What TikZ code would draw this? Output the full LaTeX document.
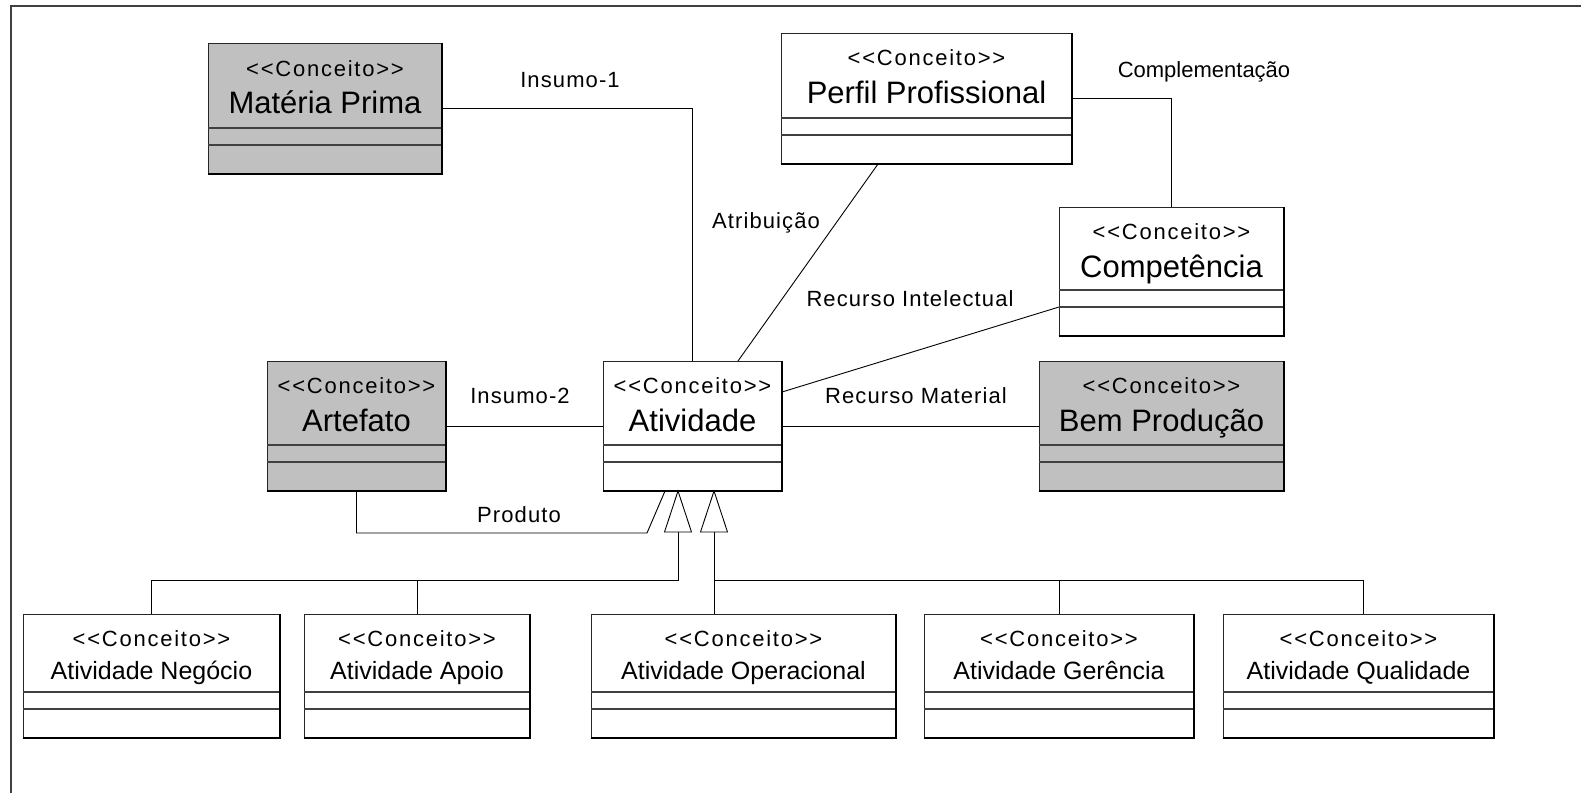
\documentclass[tikz,border=0pt]{standalone}
\usepackage{fontspec}
\newfontfamily\ff{Liberation Sans}
\newfontfamily\ffs{Liberation Sans}[LetterSpace=8]
\newfontfamily\ffl{Liberation Sans}[LetterSpace=5]
\definecolor{boxgray}{HTML}{C0C0C0}
\tikzset{
 cls/.style={draw=black!85, line width=1pt, inner sep=0pt, outer sep=0pt, rectangle},
 divl/.style={draw=black!75, line width=1.2pt},
 shadowb/.style={draw=black, line width=2.4pt},
 shadowr/.style={draw=black, line width=1.8pt},
 conn/.style={draw=black, line width=0.9pt},
 gentri/.style={draw=black, line width=0.9pt, fill=white},
 frameline/.style={draw=black!75, line width=1.6pt},
 stereo/.style={font=\ffs\fontsize{22}{26}\selectfont, anchor=base, inner sep=0pt},
 bigname/.style={font=\ff\fontsize{31}{37}\selectfont, anchor=base, inner sep=0pt},
 smallname/.style={font=\ff\fontsize{25}{30}\selectfont, anchor=base, inner sep=0pt},
 lbl/.style={font=\ffl\fontsize{22}{26}\selectfont, anchor=base, inner sep=0pt},
 lblplain/.style={font=\ff\fontsize{22}{26}\selectfont, anchor=base, inner sep=0pt},
}
\newcommand{\cbox}[6]{%
 \node[cls, fill=#6, minimum width={(#4)-(#2)}, minimum height={(#5)-(#3)}] (#1) at ({((#2)+(#4))/2},{((#3)+(#5))/2}) {};
 \draw[divl] ([yshift=46pt]#1.south west) -- ([yshift=46pt]#1.south east);
 \draw[divl] ([yshift=29pt]#1.south west) -- ([yshift=29pt]#1.south east);
 \draw[shadowb] ([xshift=-0.5pt]#1.south west) -- ([xshift=0.9pt]#1.south east);
 \draw[shadowr] (#1.south east) -- (#1.north east);
}
\begin{document}
\begin{tikzpicture}[x=1pt,y=-1pt]
\useasboundingbox (0,0) rectangle (1581,793);
\fill[white] (0,0) rectangle (1581,793);
\draw[frameline] (11,793) -- (11,6) -- (1581,6);

% top boxes
\cbox{mp}{208}{43}{442}{174}{boxgray}
\node[stereo] (mps) at (325,76) {<<Conceito>>};
\node[bigname] (mpn) at (325,113) {Matéria Prima};

\cbox{perfil}{781}{33}{1072}{164}{white}
\node[stereo] (perfils) at (926.5,65) {<<Conceito>>};
\node[bigname] (perfiln) at (926.5,103) {Perfil Profissional};

\cbox{comp}{1059}{207}{1284}{336}{white}
\node[stereo] (comps) at (1171.5,239) {<<Conceito>>};
\node[bigname] (compn) at (1171.5,277) {Competência};

\cbox{art}{267}{361}{446}{491}{boxgray}
\node[stereo] (arts) at (356.5,393) {<<Conceito>>};
\node[bigname] (artn) at (356.5,431) {Artefato};

\cbox{ativ}{603}{361}{782}{491}{white}
\node[stereo] (ativs) at (692.5,393) {<<Conceito>>};
\node[bigname] (ativn) at (692.5,431) {Atividade};

\cbox{bem}{1039}{361}{1284}{491}{boxgray}
\node[stereo] (bems) at (1161.5,393) {<<Conceito>>};
\node[bigname] (bemn) at (1161.5,431) {Bem Produção};

% bottom boxes
\cbox{neg}{23}{614}{280}{738}{white}
\node[stereo] (negs) at (151.5,646) {<<Conceito>>};
\node[smallname] (negn) at (151.5,679) {Atividade Negócio};

\cbox{apo}{304}{614}{530}{738}{white}
\node[stereo] (apos) at (417,646) {<<Conceito>>};
\node[smallname] (apon) at (417,679) {Atividade Apoio};

\cbox{ope}{591}{614}{896}{738}{white}
\node[stereo] (opes) at (743.5,646) {<<Conceito>>};
\node[smallname] (open) at (743.5,679) {Atividade Operacional};

\cbox{ger}{924}{614}{1194}{738}{white}
\node[stereo] (gers) at (1059,646) {<<Conceito>>};
\node[smallname] (gern) at (1059,679) {Atividade Gerência};

\cbox{qua}{1223}{614}{1494}{738}{white}
\node[stereo] (quas) at (1358.5,646) {<<Conceito>>};
\node[smallname] (quan) at (1358.5,679) {Atividade Qualidade};

% associations
\draw[conn] (mp.east) -| (ativ.north);
\draw[conn] ([xshift=-48.5pt]perfil.south) -- ([xshift=45.5pt]ativ.north);
\draw[conn] (perfil.east) -| (comp.north);
\draw[conn] ([yshift=-35.5pt]comp.west) -- ([yshift=34pt]ativ.east);
\draw[conn] (ativ.east) -- (bem.west);
\draw[conn] (art.east) -- (ativ.west);
\coordinate (pk) at (647,533);
\draw[conn] (art.south) |- (pk) -- ([xshift=-27.5pt]ativ.south);

% generalizations
\coordinate (g1) at ([xshift=-14.5pt]ativ.south);
\coordinate (g2) at ([xshift=21.5pt]ativ.south);
\coordinate (bus) at (0,580);
\draw[conn] ([yshift=-41pt]g1) |- (neg.north |- bus) -- (neg.north);
\draw[conn] (apo.north) -- (apo.north |- bus);
\draw[conn] ([yshift=-41pt]g2) -- (g2 |- ope.north);
\draw[conn] (g2 |- bus) -| ([xshift=4.5pt]qua.north);
\draw[conn] (ger.north) -- (ger.north |- bus);
\draw[gentri] (g1) -- ++(-13.5,41) -- ++(27,0) -- cycle;
\draw[gentri] (g2) -- ++(-13.5,41) -- ++(27,0) -- cycle;

% labels
\node[lbl] (l1) at (570,87) {Insumo-1};
\node[lbl] (l2) at (520,403) {Insumo-2};
\node[lbl] (l3) at (519,522) {Produto};
\node[lbl] (l4) at (766,228) {Atribuição};
\node[lbl] (l5) at (910,306) {Recurso Intelectual};
\node[lbl] (l6) at (916,403) {Recurso Material};
\node[lblplain] (l7) at (1204,77) {Complementação};
\end{tikzpicture}
\end{document}
